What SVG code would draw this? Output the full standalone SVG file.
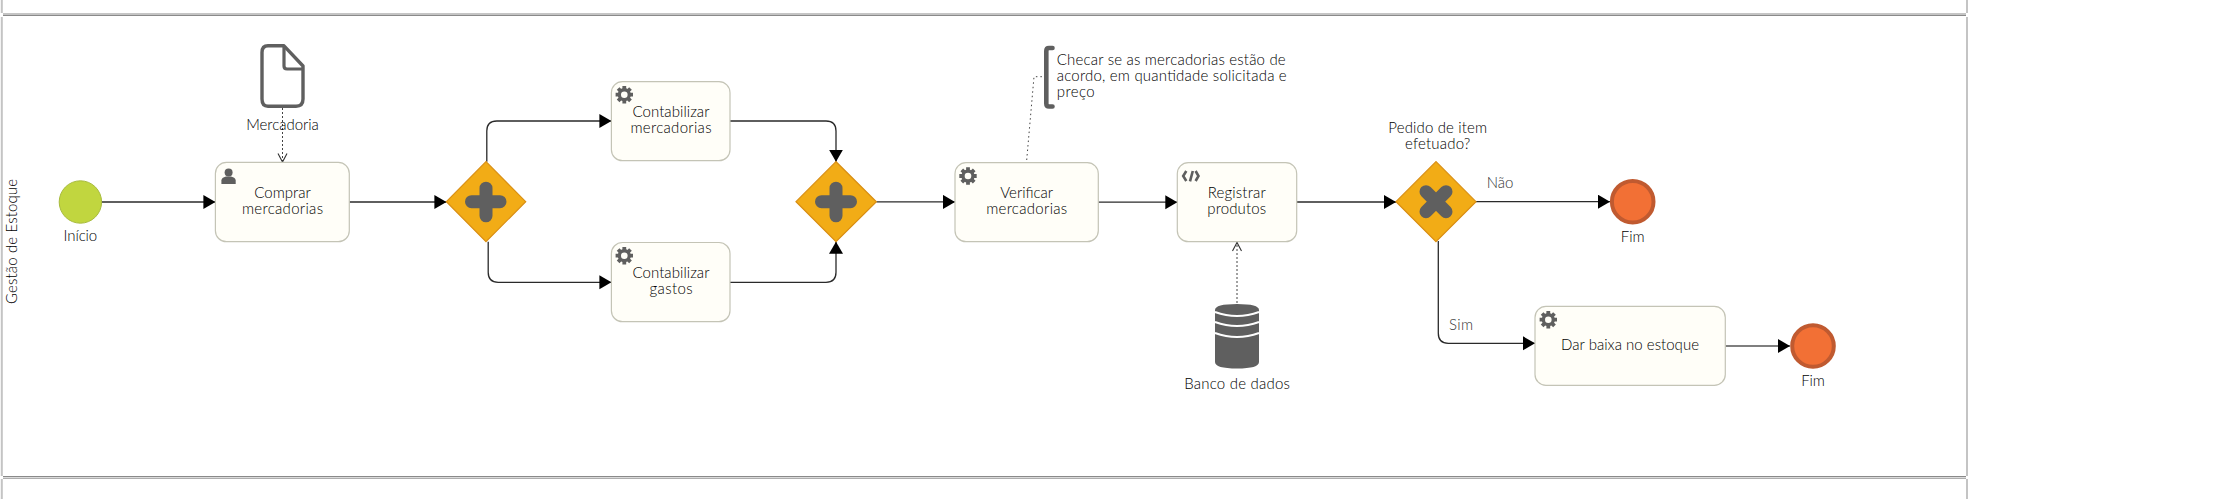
<svg xmlns="http://www.w3.org/2000/svg" width="2225" height="499" viewBox="0 0 2225 499">
<style>
text{font-family:"Lato","Liberation Sans",sans-serif;font-weight:300;font-size:15px;fill:#000;text-anchor:middle}
.l{text-anchor:start}
.lane{stroke:#c4c4c4;stroke-width:2;fill:none}
.hl{stroke:#8a8a8a;stroke-width:1;fill:none}
.task{fill:#fffef8;stroke:#c4c4b6;stroke-width:1.2}
.gw{fill:#f2ac16;stroke:#d98e12;stroke-width:1.2}
.mark{stroke:#5f5f5f;stroke-width:13;stroke-linecap:round;fill:none}
.flow{stroke:#2a2a2a;stroke-width:1.3;fill:none;marker-end:url(#arrow)}
.assoc{stroke:#444;stroke-width:1;fill:none;stroke-dasharray:2 2;marker-end:url(#open)}
.dot{stroke:#444;stroke-width:1;fill:none;stroke-dasharray:1.5 3}
.end{fill:#f27035;stroke:#c05a30;stroke-width:4}
.sl{fill:#333}
</style>
<defs>
<marker id="arrow" markerUnits="userSpaceOnUse" markerWidth="13" markerHeight="15" refX="12" refY="7" orient="auto"><path d="M0 0L12 7L0 14Z" fill="#000"/></marker>
<marker id="open" markerUnits="userSpaceOnUse" markerWidth="12" markerHeight="12" refX="9" refY="5" orient="auto"><path d="M0.5 0.5L9 5L0.5 9.5" fill="none" stroke="#333" stroke-width="1.1"/></marker>
<g id="gear"><g stroke="#5f5f5f" stroke-width="3.8"><path d="M-8.7 0H8.7M0 -8.7V8.7M-6.2 -6.2L6.2 6.2M-6.2 6.2L6.2 -6.2"/></g><circle r="6.6" fill="#5f5f5f"/><circle r="3.3" fill="#fffef8"/></g>
</defs>
<g id="lanes">
<path class="lane" d="M1.8 0V13M1.8 17V476M1.8 479V499M1967 0V13M1967 17V476M1967 479V499"/>
<path class="hl" d="M3 14H1966M3 15.5H1966M3 476.5H1966M3 478.2H1966"/>
<text transform="translate(16.5 241.5) rotate(-90)" textLength="125">Gestão de Estoque</text>
</g>
<g id="connectors">
<path class="flow" d="M101.8 202H215.4"/>
<path class="flow" d="M349.3 202H446.4"/>
<path class="flow" d="M486.8 161.7V131Q486.8 121 496.8 121H611.4"/>
<path class="flow" d="M488.2 241.7V272.3Q488.2 282.3 498.2 282.3H611.4"/>
<path class="flow" d="M730 121H826Q836 121 836 131V161.7"/>
<path class="flow" d="M730 282.3H826Q836 282.3 836 272.3V241.7"/>
<path class="flow" d="M876.4 201.9H955"/>
<path class="flow" d="M1098.3 202.2H1177.3"/>
<path class="flow" d="M1296.7 202H1396"/>
<path class="flow" d="M1476 201.7H1610"/>
<path class="flow" d="M1438.3 241V333.3Q1438.3 343.3 1448.3 343.3H1535"/>
<path class="flow" d="M1725.3 346H1790" style="stroke:#555"/>
<path class="assoc" d="M282.5 108V162"/>
<path class="assoc" d="M1237 303V242.5"/>
<path class="dot" d="M1026.7 160L1034 76.7H1044.3"/>
</g>
<g id="start"><circle cx="80.4" cy="202" r="21.2" fill="#c1d63f" stroke="#a8bb3e" stroke-width="1"/><text x="80.4" y="241" textLength="33.6">Início</text></g>
<g id="doc">
<path d="M268 45.8H284L303 66V99Q303 106.2 296 106.2H268Q262 106.2 262 99V52.5Q262 45.8 268 45.8Z" fill="#fff" stroke="#5f5f5f" stroke-width="3.4" stroke-linejoin="round"/>
<path d="M284 46V66Q284 69 287 69H303" fill="none" stroke="#5f5f5f" stroke-width="3.2"/>
<text x="282.5" y="130" textLength="72.5">Mercadoria</text>
</g>
<g id="comprar"><rect class="task" x="215.4" y="162.4" width="133.9" height="79.3" rx="11"/>
<circle cx="228.6" cy="172.5" r="4" fill="#5f5f5f"/><path d="M221.4 184V180.5Q221.4 177.5 226 176.5H231Q235.7 177.5 235.7 180.5V184Z" fill="#5f5f5f"/>
<text x="282.5" y="198.3" textLength="56.4">Comprar</text><text x="282.5" y="214" textLength="81">mercadorias</text></g>
<g id="gw1"><path class="gw" d="M446.4 201.7L486 161.7L525.7 201.7L486 241.7Z"/><path class="mark" d="M471.5 201.7H500M486 188.2V215.8"/></g>
<g id="cmerc"><rect class="task" x="611.4" y="81.7" width="118.6" height="79" rx="11"/><use href="#gear" x="624.3" y="94.7"/>
<text x="671" y="116.7" textLength="77">Contabilizar</text><text x="671" y="132.7" textLength="81">mercadorias</text></g>
<g id="cgast"><rect class="task" x="611.4" y="242.5" width="118.6" height="79.2" rx="11"/><use href="#gear" x="624.3" y="255.7"/>
<text x="671" y="277.7" textLength="77">Contabilizar</text><text x="671" y="293.7" textLength="43">gastos</text></g>
<g id="gw2"><path class="gw" d="M796 201.7L836 161.7L876.4 201.7L836 241.7Z"/><path class="mark" d="M821.5 201.7H850.5M836 188.2V215.8"/></g>
<g id="verificar"><rect class="task" x="955" y="162.7" width="143.3" height="79" rx="11"/><use href="#gear" x="968" y="176"/>
<text x="1026.7" y="198.3" textLength="52.7">Verificar</text><text x="1026.7" y="214" textLength="81">mercadorias</text></g>
<g id="nota"><path d="M1052.5 48H1049Q1046.3 48 1046.3 51V103.5Q1046.3 106.5 1049 106.5H1052.5" fill="none" stroke="#5f5f5f" stroke-width="4.6" stroke-linecap="round"/>
<text class="l" x="1056.7" y="65" textLength="229">Checar se as mercadorias estão de</text><text class="l" x="1056.7" y="81" textLength="230">acordo, em quantidade solicitada e</text><text class="l" x="1056.7" y="97" textLength="38">preço</text></g>
<g id="registrar"><rect class="task" x="1177.3" y="162.7" width="119.4" height="79" rx="11"/>
<path d="M1186.3 171L1183.2 176L1186.3 181M1192.8 171L1190 181.4M1195.6 171L1198.5 176L1195.6 181" fill="none" stroke="#5f5f5f" stroke-width="2.6"/>
<text x="1236.7" y="198.3" textLength="58">Registrar</text><text x="1236.7" y="214" textLength="58.7">produtos</text></g>
<g id="db"><path d="M1215 310Q1215 304 1237 304Q1259 304 1259 310V362Q1259 368.5 1237 368.5Q1215 368.5 1215 362Z" fill="#5f5f5f"/>
<path d="M1215 312Q1237 320 1259 312M1215 322Q1237 330 1259 322M1215 333Q1237 341 1259 333" fill="none" stroke="#fff" stroke-width="2"/>
<text x="1237" y="389.3" textLength="105.7">Banco de dados</text></g>
<g id="gw3"><path class="gw" d="M1396 201.7L1436 161.7L1476 201.7L1436 241.7Z"/><path class="mark" d="M1426 191.7L1446 211.7M1446 191.7L1426 211.7"/>
<text x="1437.7" y="132.7" textLength="98.7">Pedido de item</text><text x="1437.7" y="149" textLength="65.3">efetuado?</text></g>
<g id="nao"><text class="l sl" x="1486.7" y="188.3" textLength="26.7">Não</text></g>
<g id="sim"><text class="l sl" x="1449" y="330" textLength="24">Sim</text></g>
<g id="fim1"><circle class="end" cx="1632.7" cy="201.7" r="20.8"/><text x="1632.7" y="242.3" textLength="23.7">Fim</text></g>
<g id="baixa"><rect class="task" x="1535" y="306.4" width="190.3" height="79" rx="11"/><use href="#gear" x="1548.3" y="319.7"/>
<text x="1630" y="350" textLength="138">Dar baixa no estoque</text></g>
<g id="fim2"><circle class="end" cx="1813" cy="346" r="20.8"/><text x="1813" y="386" textLength="23.5">Fim</text></g>
</svg>
